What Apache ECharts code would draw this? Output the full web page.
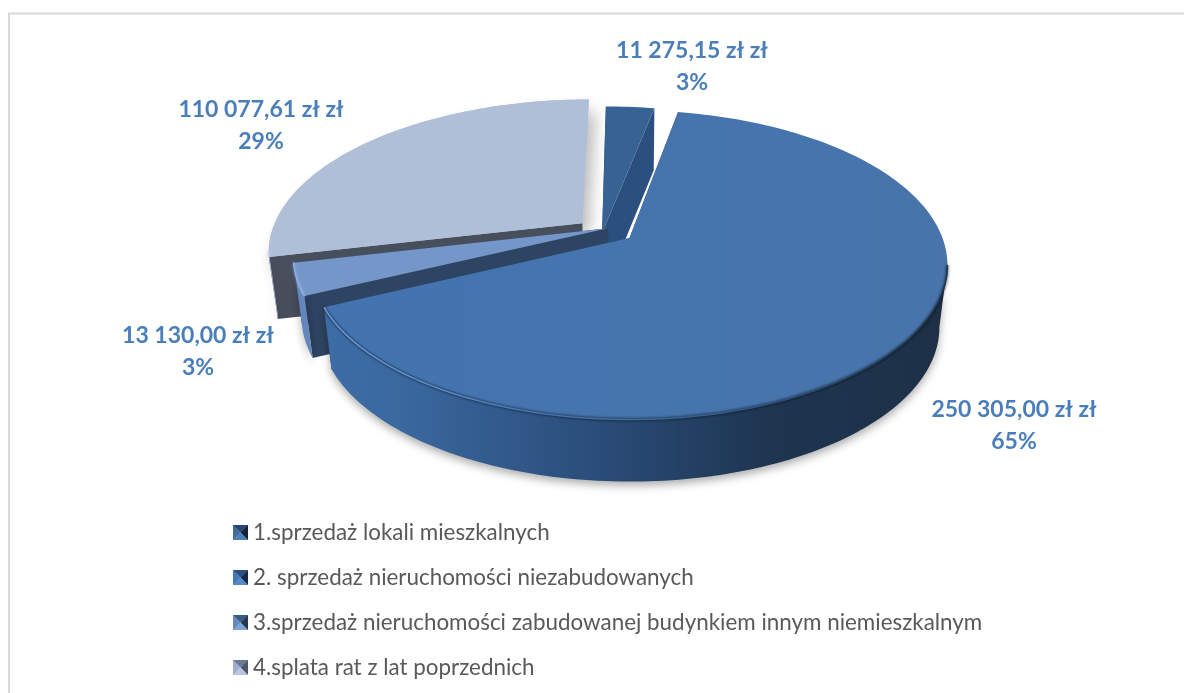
<!DOCTYPE html>
<html><head><meta charset="utf-8">
<style>html,body{margin:0;padding:0;background:#fff}#c{width:1184px;height:693px}</style>
<script src="https://cdn.jsdelivr.net/npm/echarts@6/dist/echarts.min.js"></script>
</head><body><div id="c"></div>
<script>
// ---- data ----
const categories = [
  '1.sprzedaż lokali mieszkalnych',
  '2. sprzedaż nieruchomości niezabudowanych',
  '3.sprzedaż nieruchomości zabudowanej budynkiem innym niemieszkalnym',
  '4.splata rat z lat poprzednich'
];
const values = [11275.15, 250305.00, 13130.00, 110077.61];
const valueLabels = ['11 275,15 zł zł', '250 305,00 zł zł', '13 130,00 zł zł', '110 077,61 zł zł'];
const percentLabels = ['3%', '65%', '3%', '29%'];

// ---- layout: perspective disc ----
const apex = {x: 627, y: 238};
const A = 313, B = 150, K = 0.174, DEPTH = 62, FLOOR_SCALE = 0.975;
const explode = [[-0.08, -0.035], [0.008, 0], [-0.061, -0.065], [-0.145, -0.10]];
const labelCenters = [[692, 67], [1014, 426], [198, 352], [261, 126]];
const drawOrder = [3, 0, 2, 1];
const G = (x, x2, stops) => new echarts.graphic.LinearGradient(x, 0, x2, 0, stops, true);
const looks = [
  {top: '#376394', arc: '#2b5080', wall: '#2b5080', rim: null},
  {top: G(330, 950, [{offset: 0, color: '#4374b0'}, {offset: 1, color: '#4874ab'}]),
   arc: G(326, 940, [{offset: 0, color: '#3d6ca6'}, {offset: 0.12, color: '#3a689f'}, {offset: 0.45, color: '#2a4c78'}, {offset: 0.72, color: '#1e3550'}, {offset: 1, color: '#1d3046'}]),
   wall: '#2b4363',
   rim: G(326, 948, [{offset: 0, color: '#6c9ddc'}, {offset: 0.18, color: '#5a8cca'}, {offset: 0.34, color: '#4575ad'}, {offset: 0.55, color: '#3a6494'}, {offset: 0.78, color: '#2a4a6e'}, {offset: 1, color: '#1f344b'}])},
  {top: '#7496c8', arc: '#6586bb', wall: '#2e4463', rim: '#8fb0e0'},
  {top: '#b0bfd8', arc: '#a3b7d8', wall: '#484f5c', rim: '#c4d4ee'}
];

function project(x, y) {
  const w = 1 - K * y;
  return [apex.x + A * x / w, apex.y + B * y / w];
}
const total = values.reduce((a, b) => a + b, 0);
function sliceGeometry(i) {
  let before = 0;
  for (let j = 0; j < i; j++) before += values[j];
  const a0 = before / total * Math.PI * 2;
  const a1 = (before + values[i]) / total * Math.PI * 2;
  const [ox, oy] = explode[i];
  const steps = Math.max(8, Math.round((a1 - a0) / 0.02));
  const arc = [];
  for (let s = 0; s <= steps; s++) {
    const t = a0 + (a1 - a0) * s / steps;
    arc.push(project(ox + Math.sin(t), oy - Math.cos(t)));
  }
  return {arc, centre: project(ox, oy)};
}
const down = p => [apex.x + (p[0] - apex.x) * FLOOR_SCALE, p[1] + DEPTH];
const prism = pts => pts.concat(pts.slice().reverse().map(down));

function renderSlice(i) {
  const {arc, centre} = sliceGeometry(i);
  const look = looks[i];
  const kids = [];
  const front = [];
  for (let s = 0; s < arc.length; s++) {
    const next = arc[s + 1], prev = arc[s - 1];
    if ((next && next[0] < arc[s][0]) || (prev && prev[0] > arc[s][0])) front.push(arc[s]);
  }
  if (i === 3) {
    // soft shadow thrown to the right of the back slice
    kids.push({type: 'polygon', shape: {points: [centre].concat(arc)},
      style: {fill: look.top, shadowColor: 'rgba(0,0,0,0.28)', shadowBlur: 16, shadowOffsetX: 6, shadowOffsetY: 12}});
  }
  // radial walls, rear one first (the back slice shows only its front cut)
  const ends = i === 3 ? [arc[0]] : [arc[0], arc[arc.length - 1]];
  ends.sort((p, q) => p[1] - q[1]).forEach(end => {
    kids.push({type: 'polygon', shape: {points: prism([centre, end])}, style: {fill: look.wall}});
  });
  // curved outer wall with floor shadow
  if (front.length > 1) {
    kids.push({type: 'polygon', shape: {points: prism(front)},
      style: {fill: look.arc, shadowColor: 'rgba(0,0,0,0.32)', shadowBlur: 9, shadowOffsetY: 4}});
  }
  // top face
  kids.push({type: 'polygon', shape: {points: [centre].concat(arc)}, style: {fill: look.top}});
  // bevelled rim
  if (look.rim && front.length > 1) {
    kids.push({type: 'polyline', shape: {points: front},
      style: {fill: null, stroke: look.rim, lineWidth: 1.5, shadowColor: look.rim, shadowBlur: 3}});
  }
  return {type: 'group', children: kids};
}

const labelFont = 'bold 23px Lato';
function renderLabel(i) {
  return {type: 'text', z2: 100, style: {
    text: valueLabels[i] + '\n' + percentLabels[i],
    x: labelCenters[i][0], y: labelCenters[i][1],
    align: 'center', verticalAlign: 'middle', lineHeight: 32,
    font: labelFont, fill: '#4a7ebb'
  }};
}

// bevelled square legend keys: top, right, bottom, left facets
const legendFacets = [
  ['#27476d', '#12233a', '#4f7fb6', '#3f6a9e'],
  ['#2a5080', '#15294a', '#5589c7', '#4478b8'],
  ['#3b5a86', '#26364f', '#7fa3d6', '#6488bb'],
  ['#6a7a97', '#4e566a', '#b8c8e4', '#a0b0cc']
];
function keyIcon(f) {
  const n = 45, cv = document.createElement('canvas');
  cv.width = cv.height = n;
  const c = cv.getContext('2d'), m = n / 2;
  [[[0, 0], [n, 0]], [[n, 0], [n, n]], [[n, n], [0, n]], [[0, n], [0, 0]]].forEach((e, k) => {
    c.fillStyle = f[k];
    c.beginPath(); c.moveTo(e[0][0], e[0][1]); c.lineTo(e[1][0], e[1][1]); c.lineTo(m, m); c.closePath(); c.fill();
  });
  return 'image://' + cv.toDataURL();
}

const chart = echarts.init(document.getElementById('c'), null, {renderer: 'canvas'});
chart.setOption({
  animation: false,
  backgroundColor: '#fff',
  graphic: [{type: 'rect', silent: true, z: -1, shape: {x: 9, y: 13.5, width: 1300, height: 800},
    style: {fill: '#fff', stroke: '#d9d9d9', lineWidth: 2}}],
  legend: {
    orient: 'vertical', left: 228, top: 516.5, height: 175, itemWidth: 15, itemHeight: 15, itemGap: 23,
    selectedMode: false,
    textStyle: {fontFamily: 'Lato', fontSize: 22.4, color: '#595959'},
    data: categories.map((name, i) => ({name, icon: keyIcon(legendFacets[i])}))
  },
  series: drawOrder.map(i => ({
    type: 'custom', name: categories[i], coordinateSystem: 'none', silent: true,
    data: [[values[i]]],
    renderItem: () => renderSlice(i)
  })).concat(drawOrder.map(i => ({
    type: 'custom', name: 'label-' + i, coordinateSystem: 'none', silent: true, z: 10,
    data: [[values[i]]],
    renderItem: () => renderLabel(i)
  })))
});
</script></body></html>
